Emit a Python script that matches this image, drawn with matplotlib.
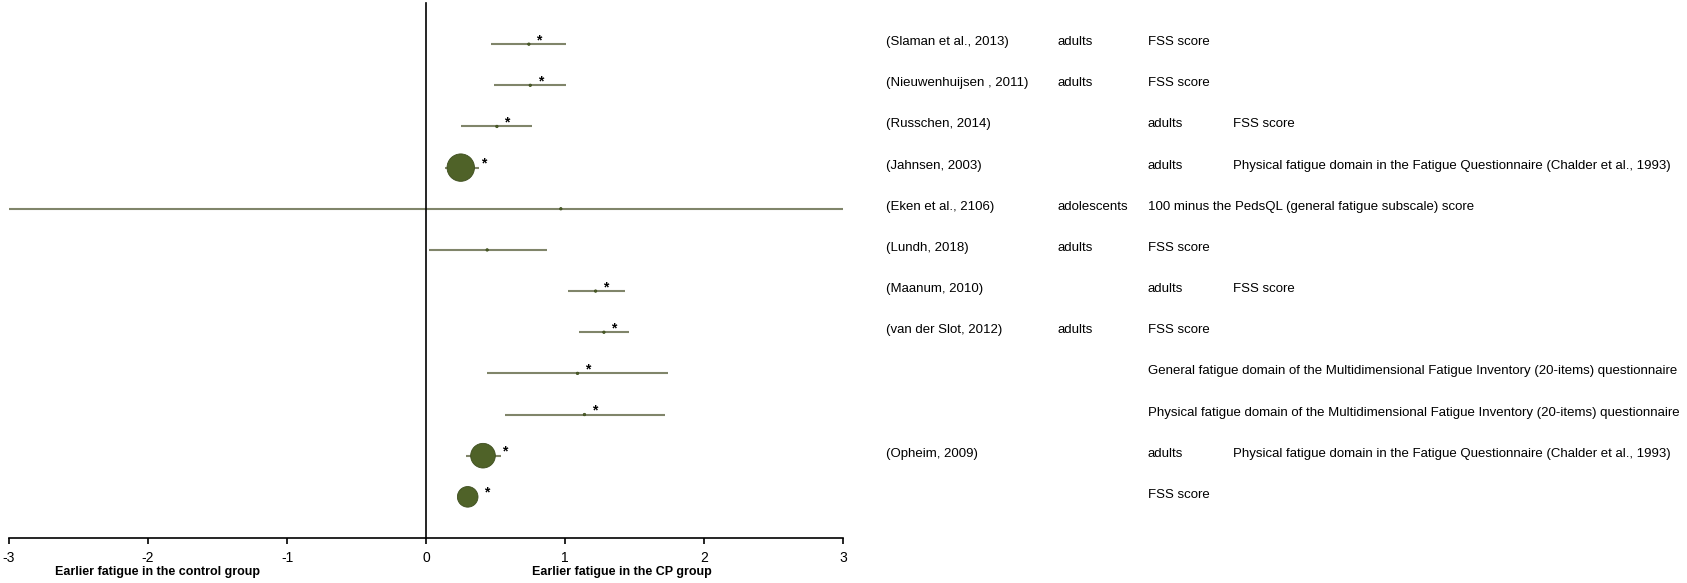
import numpy as np
import matplotlib
matplotlib.use('Agg')
import matplotlib.pyplot as plt
from matplotlib import font_manager

installed = {f.name for f in font_manager.fontManager.ttflist}
fam = 'Liberation Sans Narrow' if 'Liberation Sans Narrow' in installed else 'Liberation Sans'
plt.rcParams['font.family'] = [fam, 'DejaVu Sans']
plt.rcParams['axes.unicode_minus'] = False

# data
studies = ["(Slaman et al., 2013)", "(Nieuwenhuijsen , 2011)", "(Russchen, 2014)", "(Jahnsen, 2003)",
           "(Eken et al., 2106)", "(Lundh, 2018)", "(Maanum, 2010)", "(van der Slot, 2012)",
           "", "", "(Opheim, 2009)", ""]
col2 = ["adults", "adults", "", "", "adolescents", "adults", "", "adults", "", "", "", ""]
col3 = ["FSS score", "FSS score", "adults", "adults",
        "100 minus the PedsQL (general fatigue subscale) score", "FSS score", "adults", "FSS score",
        "General fatigue domain of the Multidimensional Fatigue Inventory (20-items) questionnaire",
        "Physical fatigue domain of the Multidimensional Fatigue Inventory (20-items) questionnaire",
        "adults", "FSS score"]
col4 = ["", "", "FSS score", "Physical fatigue domain in the Fatigue Questionnaire (Chalder et al., 1993)",
        "", "", "FSS score", "", "", "",
        "Physical fatigue domain in the Fatigue Questionnaire (Chalder et al., 1993)", ""]

effect = [0.74, 0.75, 0.51, 0.25, 0.97, 0.44, 1.22, 1.28, 1.09, 1.14, 0.41, 0.30]
lower = [0.47, 0.49, 0.25, 0.14, -3.0, 0.02, 1.02, 1.10, 0.44, 0.57, 0.29, 0.26]
upper = [1.01, 1.01, 0.76, 0.38, 3.0, 0.87, 1.43, 1.46, 1.74, 1.72, 0.54, 0.34]
weight = [3, 3, 3, 390, 3, 3, 3, 3, 3, 3, 315, 220]
signif = [1, 1, 1, 1, 0, 0, 1, 1, 1, 1, 1, 1]

rows = np.arange(1, len(effect) + 1)

line_col = '#80856a'
bub_col = '#4f6228'

fig = plt.figure(figsize=(16.87, 5.83), dpi=100)
ax = fig.add_axes([9 / 1687, 1 - 538 / 583, 834 / 1687, 535 / 583])

ax.hlines(rows, lower, upper, color=line_col, lw=1.5, zorder=2)
ax.scatter(effect, rows, s=weight, color=bub_col, edgecolors='#3d4d1e', linewidths=0.6, zorder=3)

for i in range(len(rows)):
    if signif[i]:
        r = np.sqrt(weight[i]) / 2 / 0.72
        ax.annotate('*', (effect[i], rows[i]), xytext=(r + 9, 4), textcoords='offset pixels',
                    ha='center', va='center', fontsize=10, fontweight='bold', color='black', zorder=4)

ax.set_xlim(-3, 3)
ax.set_ylim(13, 0)
ax.set_xticks(np.arange(-3, 4))
ax.set_yticks([])
ax.spines['top'].set_visible(False)
ax.spines['right'].set_visible(False)
ax.spines['left'].set_position(('data', 0))
ax.spines['left'].set_linewidth(1.2)
ax.spines['bottom'].set_linewidth(1.2)
ax.tick_params(axis='x', direction='out', length=4, width=1.2, pad=5, labelsize=10)
ax.patch.set_alpha(0)

ax.text(-2.67, 13.82, "Earlier fatigue in the control group", fontsize=9, fontweight='bold',
        ha='left', va='center', clip_on=False)
ax.text(0.76, 13.82, "Earlier fatigue in the CP group", fontsize=9, fontweight='bold',
        ha='left', va='center', clip_on=False)

# size the table text so the longest entry ends at the right edge like in the source
renderer = fig.canvas.get_renderer()
probe = fig.text(0, 0, col3[9], fontsize=10)
w = probe.get_window_extent(renderer).width
probe.remove()
fs = 10 * 535 / w

col_x = [886, 1057, 1148, 1233]
for i, r in enumerate(rows):
    ypix = fig.transFigure.inverted().transform(ax.transData.transform((0, r)))[1] + 2 / 583
    for cx, txt in zip(col_x, [studies[i], col2[i], col3[i], col4[i]]):
        if txt:
            fig.text(cx / 1687, ypix, txt, fontsize=fs, ha='left', va='center')

fig.savefig('out.png', dpi=100)
